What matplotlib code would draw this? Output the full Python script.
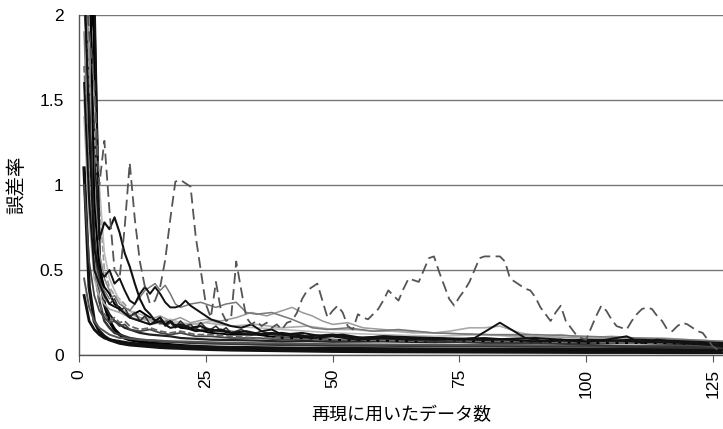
import matplotlib
matplotlib.use("Agg")
import matplotlib.pyplot as plt
from matplotlib.ticker import FormatStrFormatter

plt.rcParams['font.family'] = ['Liberation Sans', 'Noto Sans CJK JP', 'DejaVu Sans']

# error rate vs. number of data points used for reconstruction
# common x grid for the background bundle of curves
xb = [1, 2, 3, 4, 5, 6, 7, 8, 9, 10, 12, 14, 16, 18, 20, 23, 26, 30, 35, 40,
      45, 50, 60, 70, 80, 90, 100, 110, 120, 127]

bundle = [
    # (values, colour, width, style)
    ([2.6, 2.3, 1.9, 0.55, 0.3, 0.2, 0.15, 0.12, 0.1, 0.09, 0.08, 0.07, 0.065, 0.06, 0.055,
      0.05, 0.045, 0.04, 0.038, 0.035, 0.033, 0.03, 0.028, 0.027, 0.026, 0.025, 0.024, 0.023, 0.022, 0.022],
     '#000000', 2.4, '-'),
    ([1.1, 0.4, 0.2, 0.14, 0.11, 0.09, 0.08, 0.07, 0.065, 0.06, 0.055, 0.05, 0.045, 0.042, 0.04,
      0.036, 0.033, 0.03, 0.028, 0.026, 0.024, 0.022, 0.02, 0.019, 0.018, 0.017, 0.016, 0.016, 0.015, 0.015],
     '#111111', 2.4, '-'),
    ([2.2, 1.5, 0.7, 0.32, 0.2, 0.16, 0.13, 0.12, 0.11, 0.1, 0.09, 0.085, 0.08, 0.078, 0.075,
      0.07, 0.068, 0.066, 0.062, 0.06, 0.058, 0.056, 0.055, 0.053, 0.052, 0.05, 0.05, 0.048, 0.047, 0.046],
     '#333333', 1.8, '-'),
    ([0.45, 0.28, 0.2, 0.16, 0.14, 0.12, 0.11, 0.1, 0.1, 0.095, 0.09, 0.088, 0.085, 0.08, 0.08,
      0.078, 0.075, 0.072, 0.07, 0.068, 0.066, 0.064, 0.062, 0.06, 0.06, 0.058, 0.056, 0.055, 0.054, 0.052],
     '#555555', 1.4, '-'),
    ([2.5, 2.2, 1.4, 0.45, 0.3, 0.24, 0.2, 0.18, 0.16, 0.15, 0.13, 0.12, 0.115, 0.11, 0.1,
      0.095, 0.09, 0.088, 0.085, 0.08, 0.082, 0.078, 0.08, 0.075, 0.078, 0.072, 0.07, 0.072, 0.068, 0.065],
     '#222222', 1.6, '-'),
    ([2.4, 1.8, 1.0, 0.6, 0.45, 0.38, 0.3, 0.27, 0.24, 0.22, 0.2, 0.18, 0.19, 0.16, 0.17,
      0.15, 0.14, 0.14, 0.12, 0.12, 0.11, 0.11, 0.1, 0.1, 0.095, 0.09, 0.09, 0.085, 0.08, 0.08],
     '#888888', 1.2, '-'),
    ([2.3, 1.6, 1.3, 0.9, 0.5, 0.4, 0.35, 0.33, 0.3, 0.26, 0.22, 0.2, 0.18, 0.2, 0.17,
      0.16, 0.15, 0.14, 0.13, 0.12, 0.12, 0.11, 0.1, 0.1, 0.09, 0.09, 0.08, 0.08, 0.075, 0.07],
     '#999999', 1.2, '--'),
    ([1.0, 0.55, 0.35, 0.26, 0.22, 0.19, 0.2, 0.17, 0.18, 0.15, 0.14, 0.15, 0.13, 0.12, 0.13,
      0.11, 0.11, 0.1, 0.1, 0.09, 0.095, 0.085, 0.09, 0.08, 0.085, 0.08, 0.075, 0.078, 0.07, 0.065],
     '#444444', 1.3, '-'),
    ([2.2, 1.95, 1.5, 1.0, 0.6, 0.45, 0.38, 0.32, 0.28, 0.26, 0.24, 0.22, 0.2, 0.21, 0.19,
      0.18, 0.2, 0.17, 0.16, 0.15, 0.14, 0.13, 0.12, 0.11, 0.12, 0.1, 0.1, 0.09, 0.09, 0.08],
     '#bbbbbb', 1.2, '-'),
    ([2.8, 2.5, 0.9, 0.5, 0.4, 0.36, 0.3, 0.28, 0.25, 0.23, 0.26, 0.22, 0.19, 0.2, 0.16,
      0.15, 0.13, 0.12, 0.12, 0.1, 0.1, 0.09, 0.085, 0.08, 0.08, 0.075, 0.07, 0.07, 0.065, 0.06],
     '#000000', 1.4, '-'),
    ([1.7, 1.0, 0.5, 0.3, 0.24, 0.2, 0.22, 0.19, 0.2, 0.17, 0.15, 0.16, 0.14, 0.13, 0.14,
      0.12, 0.12, 0.11, 0.1, 0.1, 0.095, 0.09, 0.085, 0.08, 0.08, 0.075, 0.072, 0.07, 0.068, 0.065],
     '#666666', 1.3, '--'),
    ([0.35, 0.2, 0.15, 0.12, 0.1, 0.09, 0.085, 0.08, 0.075, 0.07, 0.065, 0.06, 0.058, 0.055, 0.052,
      0.05, 0.048, 0.046, 0.044, 0.042, 0.04, 0.04, 0.038, 0.036, 0.035, 0.035, 0.034, 0.033, 0.032, 0.032],
     '#111111', 2.0, '-'),
]

# jumpy dashed series, one value per data count 1..127
x_a = list(range(1, 128))
y_a = [2.3, 1.9, 1.6, 1.0, 1.26, 0.85, 0.5, 0.45, 0.75, 1.13,
       0.8, 0.55, 0.4, 0.3, 0.32, 0.4, 0.56, 0.8, 1.02, 1.03,
       1.01, 0.99, 0.7, 0.5, 0.3, 0.22, 0.43, 0.26, 0.2, 0.22,
       0.55, 0.38, 0.22, 0.18, 0.2, 0.17, 0.19, 0.16, 0.18, 0.15,
       0.19, 0.2, 0.25, 0.33, 0.38, 0.4, 0.42, 0.32, 0.22, 0.26,
       0.29, 0.25, 0.17, 0.15, 0.24, 0.22, 0.21, 0.24, 0.27, 0.32,
       0.38, 0.35, 0.32, 0.39, 0.45, 0.44, 0.43, 0.5, 0.57, 0.58,
       0.49, 0.41, 0.33, 0.29, 0.34, 0.38, 0.43, 0.5, 0.57, 0.58,
       0.58, 0.58, 0.58, 0.55, 0.45, 0.43, 0.41, 0.39, 0.38, 0.34,
       0.28, 0.24, 0.2, 0.25, 0.29, 0.2, 0.16, 0.12, 0.1, 0.09,
       0.16, 0.23, 0.29, 0.26, 0.21, 0.17, 0.16, 0.15, 0.2, 0.24,
       0.27, 0.28, 0.27, 0.23, 0.2, 0.15, 0.14, 0.17, 0.19, 0.18,
       0.16, 0.14, 0.13, 0.09, 0.05, 0.03, 0.02]

# black series with the early hump near 0.8
x_b = [1, 2, 3, 4, 5, 6, 7, 8, 9, 10, 11, 12, 13, 14, 15, 16, 17, 18, 19, 20,
       22, 24, 26, 28, 30, 33, 36, 40, 45, 50, 55, 60, 70, 80, 90, 100, 110, 120, 127]
y_b = [2.6, 2.4, 2.2, 0.68, 0.78, 0.74, 0.81, 0.72, 0.6, 0.52, 0.42, 0.33, 0.27, 0.24, 0.2,
       0.22, 0.18, 0.2, 0.17, 0.18, 0.16, 0.17, 0.14, 0.15, 0.13, 0.14, 0.12, 0.13, 0.11, 0.12,
       0.1, 0.11, 0.1, 0.09, 0.1, 0.08, 0.09, 0.08, 0.07]

# black series around 0.3-0.4 for 10-25
x_c = [1, 2, 3, 4, 5, 6, 7, 8, 9, 10, 11, 12, 13, 14, 15, 16, 17, 18, 19, 20, 21, 22,
       23, 24, 26, 28, 30, 32, 34, 36, 38, 40, 44, 48, 52, 56, 60, 70, 80, 90, 100,
       110, 120, 127]
y_c = [2.3, 1.3, 0.62, 0.5, 0.46, 0.5, 0.42, 0.45, 0.38, 0.32, 0.3, 0.36, 0.4, 0.36, 0.4,
       0.36, 0.31, 0.28, 0.28, 0.29, 0.32, 0.29, 0.27, 0.25, 0.21, 0.19, 0.17, 0.16, 0.18,
       0.14, 0.15, 0.12, 0.13, 0.11, 0.12, 0.1, 0.11, 0.09, 0.1, 0.08, 0.09, 0.08, 0.07, 0.06]

# black series with the bump near 83
x_d = [1, 2, 3, 4, 5, 6, 8, 10, 12, 14, 16, 18, 20, 23, 26, 30, 34, 38, 42, 46, 50,
       55, 60, 65, 70, 75, 78, 83, 88, 92, 95, 98, 101, 104, 108, 111, 114, 117, 120, 124, 127]
y_d = [1.6, 0.9, 0.5, 0.42, 0.35, 0.3, 0.27, 0.22, 0.2, 0.18, 0.2, 0.16, 0.17, 0.14, 0.15,
       0.13, 0.12, 0.13, 0.11, 0.1, 0.11, 0.09, 0.1, 0.09, 0.1, 0.09, 0.1, 0.19, 0.1, 0.08,
       0.09, 0.08, 0.08, 0.09, 0.11, 0.07, 0.09, 0.08, 0.07, 0.06, 0.05]

# grey series around 0.3 for 20-40
x_e = [1, 2, 3, 4, 5, 6, 7, 8, 9, 10, 11, 12, 13, 14, 15, 16, 17, 18, 19, 20, 22, 24,
       27, 29, 31, 33, 35, 38, 42, 46, 49, 53, 58, 63, 70, 80, 90, 100, 110, 120, 127]
y_e = [1.9, 1.0, 0.55, 0.42, 0.38, 0.33, 0.35, 0.3, 0.28, 0.26, 0.3, 0.34, 0.38, 0.4, 0.42,
       0.38, 0.41, 0.36, 0.3, 0.28, 0.3, 0.31, 0.28, 0.3, 0.31, 0.25, 0.24, 0.25, 0.21, 0.16,
       0.15, 0.16, 0.14, 0.15, 0.13, 0.12, 0.12, 0.11, 0.1, 0.09, 0.08]

# light grey series around 0.15 for the later part
x_f = [1, 2, 3, 4, 5, 6, 8, 10, 12, 15, 18, 21, 25, 30, 35, 40, 45, 50, 54, 58, 62, 66,
       70, 73, 75, 77, 80, 83, 87, 91, 95, 100, 105, 110, 115, 120, 127]
y_f = [1.4, 0.8, 0.45, 0.35, 0.3, 0.27, 0.25, 0.22, 0.21, 0.2, 0.19, 0.18, 0.19, 0.17, 0.18,
       0.16, 0.17, 0.15, 0.15, 0.14, 0.14, 0.13, 0.13, 0.14, 0.15, 0.16, 0.16, 0.17, 0.13,
       0.11, 0.12, 0.1, 0.11, 0.1, 0.1, 0.09, 0.08]

# dark jagged series around 0.2 for 8-30
x_g = [1, 2, 3, 4, 5, 6, 7, 8, 9, 10, 11, 12, 13, 14, 15, 16, 17, 18, 19, 20, 21, 22,
       23, 24, 25, 26, 27, 28, 29, 30, 32, 34, 36, 38, 40, 43, 46, 50, 55, 60, 70, 80,
       90, 100, 110, 120, 127]
y_g = [2.1, 1.4, 0.7, 0.45, 0.36, 0.3, 0.33, 0.26, 0.28, 0.22, 0.25, 0.2, 0.23, 0.18, 0.2,
       0.22, 0.17, 0.19, 0.16, 0.2, 0.17, 0.18, 0.15, 0.19, 0.16, 0.15, 0.17, 0.14, 0.16,
       0.13, 0.15, 0.12, 0.14, 0.12, 0.11, 0.12, 0.1, 0.11, 0.09, 0.1, 0.08, 0.07, 0.07,
       0.06, 0.05, 0.05, 0.04]

# pale series rising to 0.28 near 42
x_h = [1, 2, 3, 4, 5, 6, 8, 10, 12, 14, 16, 18, 20, 22, 25, 28, 31, 34, 37, 40, 42, 44,
       46, 48, 50, 53, 56, 60, 65, 70, 80, 90, 100, 110, 120, 127]
y_h = [1.5, 0.9, 0.5, 0.4, 0.33, 0.3, 0.27, 0.24, 0.22, 0.21, 0.23, 0.2, 0.22, 0.19, 0.21,
       0.2, 0.22, 0.25, 0.23, 0.26, 0.28, 0.25, 0.23, 0.2, 0.18, 0.19, 0.16, 0.15, 0.14,
       0.13, 0.12, 0.11, 0.1, 0.09, 0.08, 0.07]

fig = plt.figure(figsize=(7.23, 4.29), dpi=100)
ax = fig.add_axes([0.1093, 0.1725, 0.8907, 0.7925])

for vals, col, lw, ls in bundle:
    ax.plot(xb, vals, color=col, lw=lw, ls=ls)

ax.plot(x_h, y_h, color='#999999', lw=1.1)
ax.plot(x_f, y_f, color='#aaaaaa', lw=1.2)
ax.plot(x_g, y_g, color='#333333', lw=1.2)
ax.plot(x_e, y_e, color='#777777', lw=1.1)
ax.plot(x_d, y_d, color='#111111', lw=1.4)
ax.plot(x_c, y_c, color='#111111', lw=1.4)
ax.plot(x_b, y_b, color='#111111', lw=1.5)
ax.plot(x_a, y_a, color='#555555', lw=1.3, dashes=(6, 3))

ax.set_xlim(0, 127)
ax.set_ylim(0, 2)
ax.set_yticks([0, 0.5, 1, 1.5, 2])
ax.yaxis.set_major_formatter(FormatStrFormatter('%g'))
ax.set_xticks([0, 25, 50, 75, 100, 125])
ax.grid(axis='y', color='#777777', lw=1)
ax.set_axisbelow(True)

for s in ['top', 'right']:
    ax.spines[s].set_visible(False)
for s in ['left', 'bottom']:
    ax.spines[s].set_color('#555555')
    ax.spines[s].set_linewidth(1)

ax.tick_params(axis='y', length=0, pad=11, labelsize=12.5)
ax.tick_params(axis='x', length=5, direction='out', color='#555555', pad=5,
               labelsize=12.5, labelrotation=90)

ax.set_ylabel('誤差率', family='Noto Sans CJK JP', fontsize=14, labelpad=9)
ax.set_xlabel('再現に用いたデータ数', family='Noto Sans CJK JP', fontsize=13, labelpad=6)

fig.savefig('out.png', dpi=100)
